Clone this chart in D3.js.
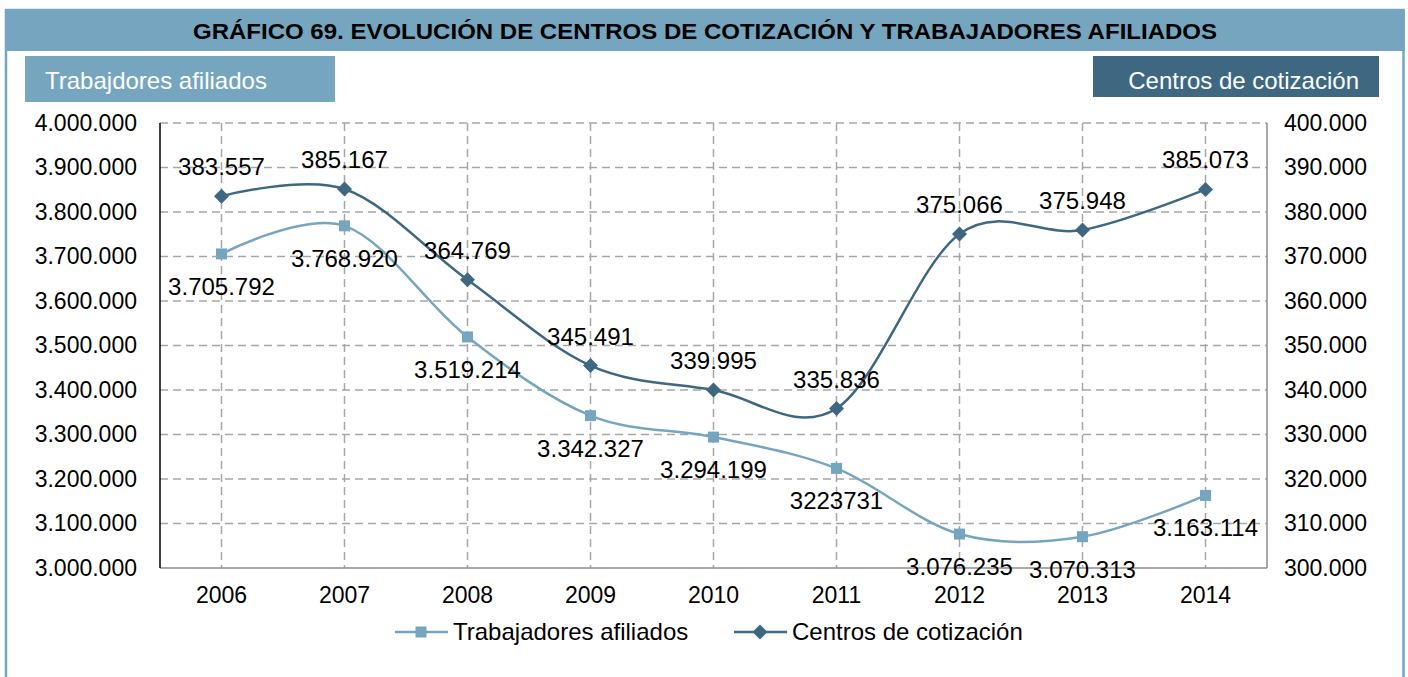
<!DOCTYPE html>
<html>
<head>
<meta charset="utf-8">
<script src="https://cdn.jsdelivr.net/npm/d3@7"></script>
<style>
  html, body { margin: 0; padding: 0; background: #fff; }
  svg { display: block; font-family: "Liberation Sans", Arial, sans-serif; }
</style>
</head>
<body>
<svg id="chart" width="1408" height="677"></svg>
<script>
// Years on the category axis
const years = ["2006", "2007", "2008", "2009", "2010", "2011", "2012", "2013", "2014"];
// Afiliados (left axis)
const trabajadores = [3705792, 3768920, 3519214, 3342327, 3294199, 3223731, 3076235, 3070313, 3163114];
const trabajadoresLabels = ["3.705.792", "3.768.920", "3.519.214", "3.342.327", "3.294.199", "3223731", "3.076.235", "3.070.313", "3.163.114"];
// Centros de cotización (right axis)
const centros = [383557, 385167, 364769, 345491, 339995, 335836, 375066, 375948, 385073];
const centrosLabels = ["383.557", "385.167", "364.769", "345.491", "339.995", "335.836", "375.066", "375.948", "385.073"];
// Axis ticks
const leftTicks = [3000000, 3100000, 3200000, 3300000, 3400000, 3500000, 3600000, 3700000, 3800000, 3900000, 4000000];
const rightTicks = [300000, 310000, 320000, 330000, 340000, 350000, 360000, 370000, 380000, 390000, 400000];

const titleText = "GRÁFICO 69. EVOLUCIÓN DE CENTROS DE COTIZACIÓN Y TRABAJADORES AFILIADOS";
const leftBoxText = "Trabajdores afiliados";
const rightBoxText = "Centros de cotización";
const seriesNames = ["Trabajadores afiliados", "Centros de cotización"];

const light = "#76a6bf";
const dark = "#3e6882";
const FONT = "Liberation Sans, Arial, sans-serif";

const svg = d3.select("#chart");

// Frame and header band
svg.append("rect").attr("x", 6).attr("y", 10).attr("width", 1397.5).attr("height", 700)
  .attr("fill", "#fff").attr("stroke", light).attr("stroke-width", 2.5);
svg.append("rect").attr("x", 5).attr("y", 10).attr("width", 1400).attr("height", 41).attr("fill", light);
svg.append("text").attr("x", 705).attr("y", 39).attr("text-anchor", "middle")
  .attr("font-weight", "bold").attr("font-size", 22).attr("fill", "#000")
  .attr("textLength", 1024).attr("lengthAdjust", "spacingAndGlyphs").text(titleText);

// Axis caption boxes
svg.append("rect").attr("x", 25).attr("y", 56).attr("width", 310).attr("height", 46).attr("fill", light);
svg.append("text").attr("x", 45).attr("y", 89).attr("font-size", 24).attr("fill", "#fff").text(leftBoxText);
svg.append("rect").attr("x", 1093).attr("y", 56).attr("width", 286).attr("height", 41).attr("fill", dark);
svg.append("text").attr("x", 1359).attr("y", 89).attr("text-anchor", "end").attr("font-size", 24).attr("fill", "#fff").text(rightBoxText);

// Plot area
const L = 160, R = 1267, T = 123, B = 568;
const x = d3.scaleBand().domain(years).range([L, R]);
const xc = d => x(d) + x.bandwidth() / 2;
const yL = d3.scaleLinear().domain([3000000, 4000000]).range([B, T]);
const yR = d3.scaleLinear().domain([300000, 400000]).range([B, T]);

const fmt = v => d3.format(",")(v).replace(/,/g, ".");

const grid = svg.append("g");
// Horizontal dashed gridlines
grid.selectAll("line.h").data(leftTicks.filter(t => t > 3000000)).join("line")
  .attr("x1", L).attr("x2", R).attr("y1", d => yL(d)).attr("y2", d => yL(d))
  .attr("stroke", "#a6a6a6").attr("stroke-width", 1.5).attr("stroke-dasharray", "8,5");
// Vertical dashed gridlines at categories
grid.selectAll("line.v").data(years).join("line")
  .attr("x1", d => xc(d)).attr("x2", d => xc(d)).attr("y1", T).attr("y2", B)
  .attr("stroke", "#a6a6a6").attr("stroke-width", 1.5).attr("stroke-dasharray", "8,5");

// Axis lines
svg.append("line").attr("x1", L).attr("x2", R).attr("y1", B).attr("y2", B).attr("stroke", "#8c8c8c").attr("stroke-width", 1.5);
svg.append("line").attr("x1", R).attr("x2", R).attr("y1", T).attr("y2", B).attr("stroke", "#8c8c8c").attr("stroke-width", 1.5);
svg.append("line").attr("x1", L).attr("x2", L).attr("y1", T).attr("y2", B).attr("stroke", "#000").attr("stroke-width", 1.5);

// Left axis labels
const leftAxis = svg.append("g").attr("transform", `translate(${L},0)`)
  .call(d3.axisLeft(yL).tickValues(leftTicks).tickFormat(fmt).tickSize(0).tickPadding(23));
leftAxis.select(".domain").remove();
leftAxis.selectAll("text").attr("font-size", 23).attr("fill", "#000").attr("font-family", FONT);

// Right axis labels
const rightAxis = svg.append("g").attr("transform", `translate(${R},0)`)
  .call(d3.axisRight(yR).tickValues(rightTicks).tickFormat(fmt).tickSize(0).tickPadding(17));
rightAxis.select(".domain").remove();
rightAxis.selectAll("text").attr("font-size", 23).attr("fill", "#000").attr("font-family", FONT);

// Bottom axis labels
const bottomAxis = svg.append("g").attr("transform", `translate(0,${B})`)
  .call(d3.axisBottom(x).tickSize(0).tickPadding(19));
bottomAxis.select(".domain").remove();
bottomAxis.selectAll("text").attr("font-size", 23).attr("fill", "#000").attr("font-family", FONT);

// Smoothed lines
const curve = d3.curveCatmullRom.alpha(0);
const lineL = d3.line().x((d, i) => xc(years[i])).y(d => yL(d)).curve(curve);
const lineR = d3.line().x((d, i) => xc(years[i])).y(d => yR(d)).curve(curve);

svg.append("path").attr("d", lineL(trabajadores)).attr("fill", "none").attr("stroke", light).attr("stroke-width", 2.5);
svg.append("path").attr("d", lineR(centros)).attr("fill", "none").attr("stroke", dark).attr("stroke-width", 2.5);

const sq = d3.symbol().type(d3.symbolSquare).size(121);
const diamondPath = "M0,-7.5L7.5,0L0,7.5L-7.5,0Z";

svg.append("g").selectAll("path").data(trabajadores).join("path")
  .attr("d", sq).attr("fill", light)
  .attr("transform", (d, i) => `translate(${xc(years[i])},${yL(d)})`);
svg.append("g").selectAll("path").data(centros).join("path")
  .attr("d", diamondPath).attr("fill", dark)
  .attr("transform", (d, i) => `translate(${xc(years[i])},${yR(d)})`);

// Data labels
svg.append("g").selectAll("text").data(trabajadores).join("text")
  .attr("x", (d, i) => xc(years[i]))
  .attr("y", d => yL(d) + 41)
  .attr("text-anchor", "middle").attr("font-size", 24).attr("fill", "#000")
  .text((d, i) => trabajadoresLabels[i]);
svg.append("g").selectAll("text").data(centros).join("text")
  .attr("x", (d, i) => xc(years[i]))
  .attr("y", d => yR(d) - 21)
  .attr("text-anchor", "middle").attr("font-size", 24).attr("fill", "#000")
  .text((d, i) => centrosLabels[i]);

// Legend
const legend = svg.append("g");
const items = [
  { name: seriesNames[0], color: light, mark: "square", x0: 395 },
  { name: seriesNames[1], color: dark, mark: "diamond", x0: 734 }
];
items.forEach(it => {
  const g = legend.append("g").attr("transform", `translate(${it.x0},632)`);
  g.append("line").attr("x1", 0).attr("x2", 53).attr("y1", 0).attr("y2", 0).attr("stroke", it.color).attr("stroke-width", 2.5);
  g.append("path").attr("d", it.mark === "square" ? sq : diamondPath).attr("fill", it.color).attr("transform", "translate(26,0)");
  g.append("text").attr("x", 58).attr("y", 8).attr("font-size", 24).attr("fill", "#000").text(it.name);
});
</script>
</body>
</html>
